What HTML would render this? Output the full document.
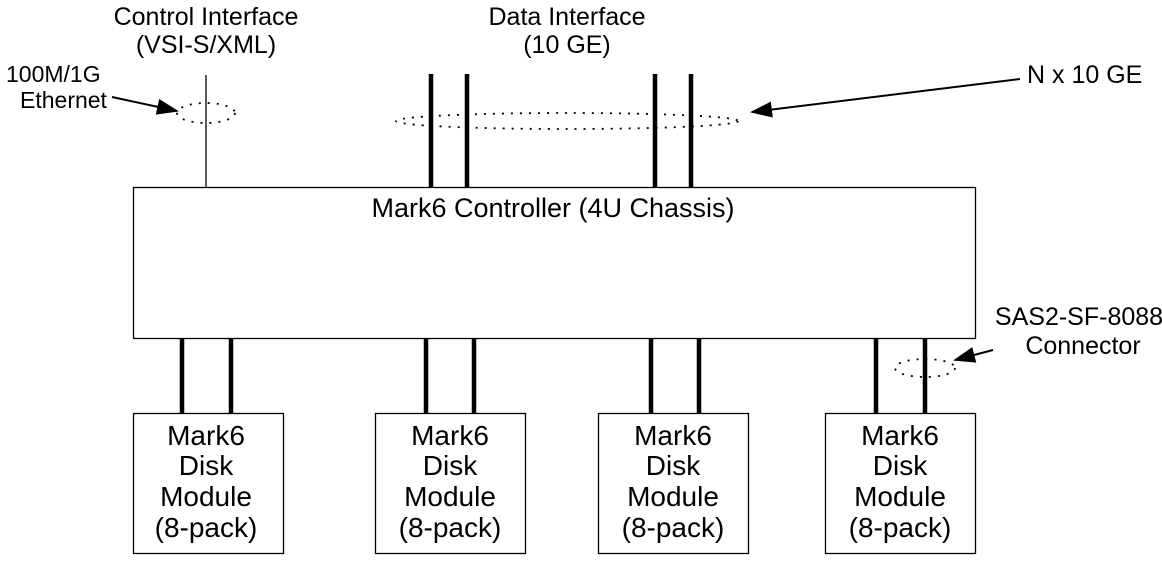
<!DOCTYPE html>
<html><head><style>
html,body{margin:0;padding:0;background:#fff;}
svg{display:block;}
text{font-family:"Liberation Sans",Arial,sans-serif;font-size:25px;fill:#000;}
.d{font-size:28px;}
.m{font-size:27px;}
.e{font-size:23px;}
</style></head><body>
<svg width="1162" height="566" viewBox="0 0 1162 566">
<defs>
<marker id="a2" markerWidth="22" markerHeight="16" refX="20" refY="8" orient="auto" markerUnits="userSpaceOnUse">
<path d="M0,0 L22,8 L0,16 z" fill="#000"/>
</marker>
</defs>
<g text-anchor="middle">
<text x="206" y="25">Control Interface</text>
<text x="206" y="53">(VSI-S/XML)</text>
<text x="567" y="25">Data Interface</text>
<text x="567" y="53">(10 GE)</text>
</g>
<text class="e" x="6" y="82">100M/1G</text>
<text class="e" x="20" y="108">Ethernet</text>
<text x="1027" y="83">N x 10 GE</text>
<text x="1079" y="325" text-anchor="middle">SAS2-SF-8088</text>
<text x="1083" y="354" text-anchor="middle">Connector</text>

<line x1="206" y1="75" x2="206" y2="187" stroke="#000" stroke-width="1.3"/>
<g stroke="#000" stroke-width="4.5">
<line x1="431" y1="74" x2="431" y2="187"/><line x1="467" y1="74" x2="467" y2="187"/>
<line x1="655" y1="74" x2="655" y2="187"/><line x1="691" y1="74" x2="691" y2="187"/>
<line x1="182" y1="338" x2="182" y2="413"/><line x1="231" y1="338" x2="231" y2="413"/>
<line x1="426" y1="338" x2="426" y2="413"/><line x1="474" y1="338" x2="474" y2="413"/>
<line x1="651" y1="338" x2="651" y2="413"/><line x1="699" y1="338" x2="699" y2="413"/>
<line x1="876" y1="338" x2="876" y2="413"/><line x1="925" y1="338" x2="925" y2="413"/>
</g>
<g fill="none" stroke="#000" stroke-width="1.8" stroke-dasharray="2,7">
<ellipse cx="206" cy="113" rx="29" ry="10"/>
<ellipse cx="567" cy="121" rx="171" ry="8"/>
<ellipse cx="925" cy="368" rx="30" ry="9"/>
</g>
<g stroke="#000" stroke-width="2" fill="none">
<line x1="112" y1="97" x2="177" y2="111" marker-end="url(#a2)"/>
<line x1="1020" y1="79" x2="752" y2="112" marker-end="url(#a2)"/>
<line x1="993" y1="350" x2="955" y2="360" marker-end="url(#a2)"/>
</g>
<rect x="133.5" y="187.5" width="842" height="151" fill="none" stroke="#000" stroke-width="1.3"/>
<text class="m" x="553" y="217" text-anchor="middle">Mark6 Controller (4U Chassis)</text>
<g fill="none" stroke="#000" stroke-width="1.3">
<rect x="133.5" y="413.5" width="150" height="140"/>
<rect x="375.5" y="413.5" width="150" height="140"/>
<rect x="598.5" y="413.5" width="150" height="140"/>
<rect x="825.5" y="413.5" width="150" height="140"/>
</g>
<g text-anchor="middle">
<text class="d" x="206" y="445">Mark6</text><text class="d" x="206" y="475">Disk</text><text class="d" x="206" y="506">Module</text><text class="d" x="206" y="537">(8-pack)</text>
<text class="d" x="450" y="445">Mark6</text><text class="d" x="450" y="475">Disk</text><text class="d" x="450" y="506">Module</text><text class="d" x="450" y="537">(8-pack)</text>
<text class="d" x="673" y="445">Mark6</text><text class="d" x="673" y="475">Disk</text><text class="d" x="673" y="506">Module</text><text class="d" x="673" y="537">(8-pack)</text>
<text class="d" x="900" y="445">Mark6</text><text class="d" x="900" y="475">Disk</text><text class="d" x="900" y="506">Module</text><text class="d" x="900" y="537">(8-pack)</text>
</g>
</svg>
</body></html>
